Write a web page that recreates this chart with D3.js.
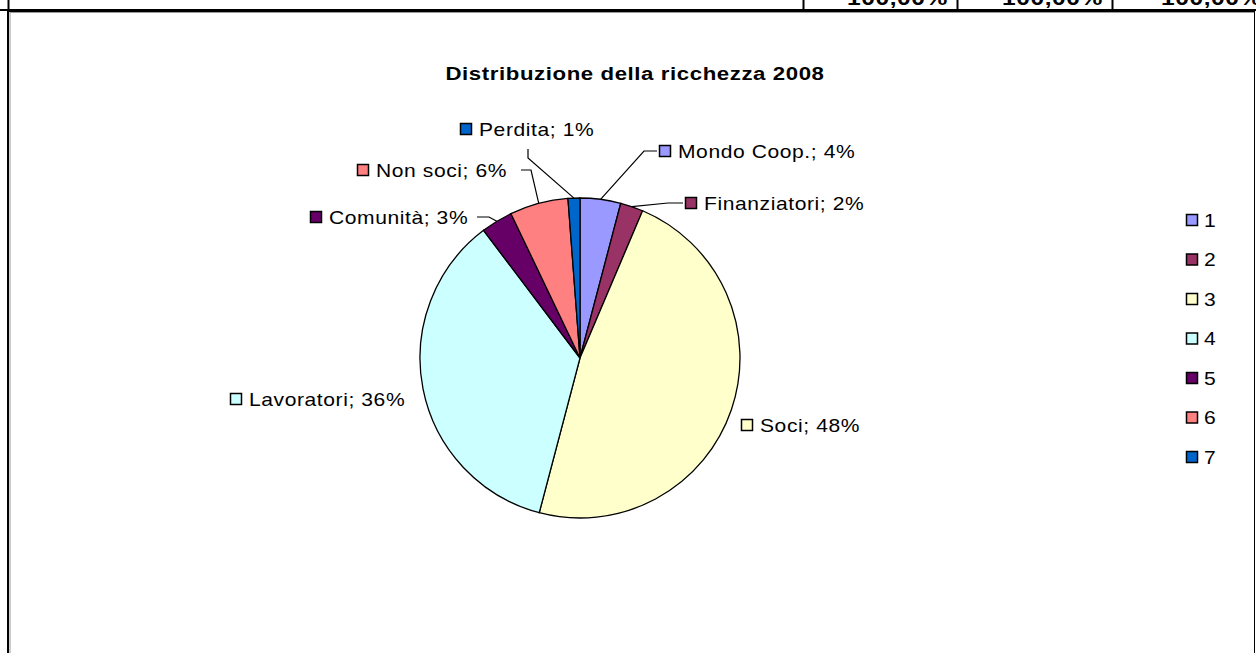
<!DOCTYPE html>
<html><head><meta charset="utf-8">
<script src="https://cdn.jsdelivr.net/npm/d3@7/dist/d3.min.js"></script>
<style>
html,body{margin:0;padding:0;background:#fff;overflow:hidden}
svg{display:block}
text{font-family:Arial,"Liberation Sans",sans-serif}
</style></head>
<body>
<svg id="chart" width="1256" height="653"></svg>
<script>
// ---- data ----
const categories = ["Mondo Coop.", "Finanziatori", "Soci", "Lavoratori", "Comunità", "Non soci", "Perdita"];
const values = [4.1, 2.3, 47.7, 35.6, 3.2, 5.9, 1.2];
const legendLabels = ["1", "2", "3", "4", "5", "6", "7"];
const colors = ["#9999FF", "#993366", "#FFFFCC", "#CCFFFF", "#660066", "#FF8080", "#0066CC"];
const title = "Distribuzione della ricchezza 2008";
const tableRowTexts = ["100,00%", "100,00%", "100,00%"];

// ---- layout (not data) ----
const W = 1256, H = 653;
const cx = 580, cy = 358, R = 160;
const SX = 1.17; // horizontal stretch of the text
const labelLayout = [
  {x: 659, y: 151, elbow: [644, 151], end: [657, 151]},
  {x: 685, y: 203, elbow: [668, 203], end: [683, 203]},
  {x: 741, y: 425},
  {x: 230, y: 399},
  {x: 310, y: 217, elbow: [489, 217], end: [477, 217]},
  {x: 357, y: 170, elbow: [531, 170], end: [521, 170]},
  {x: 460, y: 129, elbow: [528, 158], end: [528, 149]}
];

const svg = d3.select("#chart");
const total = d3.sum(values);

function stretchedText(x, y, str, size, weight, anchor) {
  return svg.append("text")
    .attr("transform", `translate(${x},${y}) scale(${SX},1)`)
    .attr("font-size", size).attr("font-weight", weight || "normal")
    .attr("letter-spacing", 0.5)
    .attr("text-anchor", anchor || "start")
    .text(str);
}

// top table row (cut off)
svg.append("line").attr("x1", 0).attr("x2", W).attr("y1", 10).attr("y2", 10)
  .attr("stroke", "#000").attr("stroke-width", 2);
[8.5, 803.5, 957.5, 1112.5].forEach(x => {
  svg.append("line").attr("x1", x).attr("x2", x).attr("y1", 0).attr("y2", 10)
    .attr("stroke", "#000").attr("stroke-width", 2);
});
const cellRight = [948, 1103, 1262];
tableRowTexts.forEach((t, i) => {
  stretchedText(cellRight[i], 5, t, 21, "bold", "end");
});

// chart frame
svg.append("line").attr("x1", 8).attr("x2", 8).attr("y1", 11).attr("y2", H)
  .attr("stroke", "#000").attr("stroke-width", 2);
svg.append("line").attr("x1", 10).attr("x2", 10).attr("y1", 12).attr("y2", H)
  .attr("stroke", "#999").attr("stroke-width", 1);
svg.append("line").attr("x1", 9).attr("x2", 1255).attr("y1", 11.5).attr("y2", 11.5)
  .attr("stroke", "#000").attr("stroke-width", 1);
svg.append("line").attr("x1", 10).attr("x2", 1254).attr("y1", 12.5).attr("y2", 12.5)
  .attr("stroke", "#999").attr("stroke-width", 1);
svg.append("line").attr("x1", 1254.5).attr("x2", 1254.5).attr("y1", 11).attr("y2", H)
  .attr("stroke", "#000").attr("stroke-width", 1);

// title
stretchedText(635, 80, title, 19, "bold", "middle");

// pie
const pie = d3.pie().sort(null).value(d => d)(values);
const arc = d3.arc().innerRadius(0).outerRadius(R);
const g = svg.append("g").attr("transform", `translate(${cx},${cy})`);
g.selectAll("path").data(pie).join("path")
  .attr("d", arc)
  .attr("fill", (d, i) => colors[i])
  .attr("stroke", "#000").attr("stroke-width", 1.3);

// leader lines and labels
pie.forEach((d, i) => {
  const L = labelLayout[i];
  if (L.elbow) {
    const mid = (d.startAngle + d.endAngle) / 2;
    const p0 = [cx + R * Math.sin(mid), cy - R * Math.cos(mid)];
    svg.append("polyline")
      .attr("points", [p0, L.elbow, L.end].map(p => p.join(",")).join(" "))
      .attr("fill", "none").attr("stroke", "#000").attr("stroke-width", 1.2);
  }
  svg.append("rect").attr("x", L.x + 0.5).attr("y", L.y - 5.5).attr("width", 11).attr("height", 11)
    .attr("fill", colors[i]).attr("stroke", "#000").attr("stroke-width", 1.5);
  const pct = Math.round(values[i] / total * 100);
  stretchedText(L.x + 19, L.y + 6.5, `${categories[i]}; ${pct}%`, 18);
});

// legend
const ly = d3.scalePoint().domain(legendLabels).range([220, 457]);
legendLabels.forEach((l, i) => {
  const y = ly(l);
  svg.append("rect").attr("x", 1186.5).attr("y", y - 5.5).attr("width", 11).attr("height", 11)
    .attr("fill", colors[i]).attr("stroke", "#000").attr("stroke-width", 1.5);
  stretchedText(1204, y + 6.5, l, 18);
});
</script>
</body></html>
